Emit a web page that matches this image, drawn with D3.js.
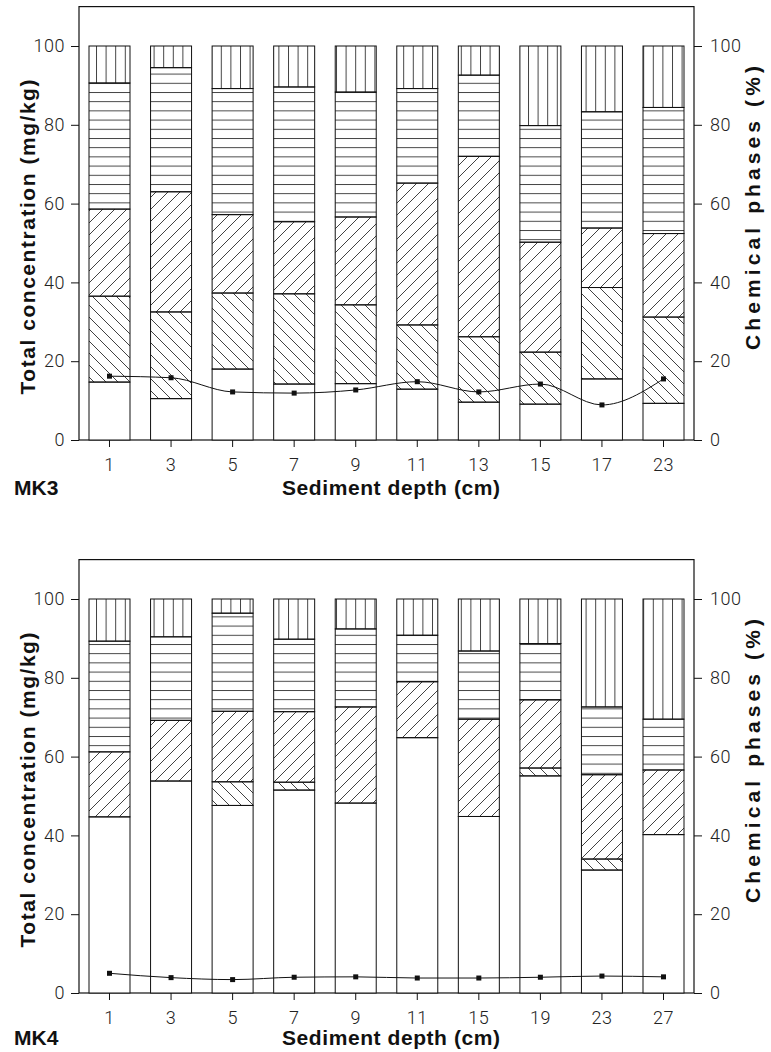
<!DOCTYPE html>
<html lang="en">
<head>
<meta charset="utf-8">
<title>Chemical phases MK3 / MK4</title>
<style>
  body { margin: 0; background: #fff; }
  svg text { font-family: "Liberation Sans", Arial, sans-serif; }
  .tick text { font-family: Roboto, "Liberation Sans", sans-serif; font-weight: 300; font-size: 18px; fill: #222; letter-spacing: 0.5px; }
  .tick line { stroke: #111; }
  .title { font-weight: bold; font-size: 21px; fill: #111; }
</style>
</head>
<body>
<div id="chart"></div>
<script src="https://cdn.jsdelivr.net/npm/d3@7"></script>
<script>
// sediment depths (cm)
var depthsMK3 = [1, 3, 5, 7, 9, 11, 13, 15, 17, 23];
var depthsMK4 = [1, 3, 5, 7, 9, 11, 15, 19, 23, 27];

// chemical phases (%), bottom to top: open, "\\\", "///", horizontal, vertical
var mk3Open  = [14.7, 10.5, 18.0, 14.2, 14.3, 12.9, 9.6, 9.1, 15.5, 9.3];
var mk3Back  = [21.8, 22.0, 19.3, 22.9, 20.0, 16.3, 16.6, 13.2, 23.2, 21.9];
var mk3Fwd   = [22.1, 30.5, 19.9, 18.3, 22.3, 36.0, 45.8, 27.9, 15.1, 21.2];
var mk3Horiz = [32.0, 31.5, 32.0, 34.2, 31.7, 24.0, 20.6, 29.6, 29.5, 32.0];
var mk3Vert  = [9.4, 5.5, 10.8, 10.4, 11.7, 10.8, 7.4, 20.2, 16.7, 15.6];

var mk4Open  = [44.7, 53.8, 47.6, 51.5, 48.2, 64.8, 44.8, 55.1, 31.2, 40.2];
var mk4Back  = [0, 0, 6.0, 2.0, 0, 0, 0, 2.0, 2.8, 0];
var mk4Fwd   = [16.5, 15.4, 17.9, 17.9, 24.4, 14.2, 24.7, 17.3, 21.4, 16.4];
var mk4Horiz = [28.1, 21.2, 24.9, 18.4, 19.8, 11.8, 17.3, 14.3, 17.2, 12.9];
var mk4Vert  = [10.7, 9.6, 3.6, 10.2, 7.6, 9.2, 13.2, 11.3, 27.4, 30.5];

// total concentration (mg/kg)
var mk3Total = [16.2, 15.8, 12.2, 11.9, 12.7, 14.8, 12.2, 14.2, 8.9, 15.5];
var mk4Total = [5.0, 3.9, 3.4, 4.0, 4.1, 3.8, 3.8, 4.0, 4.3, 4.1];

var yTicks = [0, 20, 40, 60, 80, 100];

var w = 771, h = 1052;
var svg = d3.select("#chart").append("svg").attr("width", w).attr("height", h);

// hatch patterns
var defs = svg.append("defs");
function pattern(id, pw, ph, d) {
  defs.append("pattern").attr("id", id)
    .attr("patternUnits", "userSpaceOnUse")
    .attr("width", pw).attr("height", ph)
    .append("path").attr("d", d)
    .attr("stroke", "#111").attr("stroke-width", 0.8).attr("fill", "none");
}
pattern("vert", 9.6, 10, "M0.5,0 V10");
pattern("horiz", 10, 9.2, "M0,0.5 H10");
pattern("fwd", 12, 12, "M0,12 L12,0 M-3,3 L3,-3 M9,15 L15,9");
pattern("back", 12, 12, "M0,0 L12,12 M-3,9 L3,15 M9,-3 L15,3");

var keys = ["open", "back", "fwd", "horiz", "vert"];
var fills = { open: "#fff", back: "url(#back)", fwd: "url(#fwd)", horiz: "url(#horiz)", vert: "url(#vert)" };

function drawPanel(zeroY, depths, cols, totals, name, titleOff) {
  var g = svg.append("g");
  var y = d3.scaleLinear().domain([0, 100]).range([zeroY, zeroY - 394]);
  var x = d3.scaleBand().domain(depths).range([89, 684]).paddingInner(0.334).paddingOuter(0);
  var left = 79, right = 694;

  var rows = depths.map(function(d, i) {
    var r = { depth: d };
    keys.forEach(function(k) { r[k] = cols[k][i]; });
    return r;
  });
  var stack = d3.stack().keys(keys)(rows);

  // frame
  g.append("rect").attr("x", left).attr("y", y(110))
    .attr("width", right - left).attr("height", y(0) - y(110))
    .attr("fill", "none").attr("stroke", "#111").attr("stroke-width", 1.2);

  g.selectAll(".layer").data(stack).enter()
    .append("g").attr("class", "layer")
    .attr("fill", function(d) { return fills[d.key]; })
    .selectAll("rect")
    .data(function(d) { return d.filter(function(s) { return s[1] - s[0] > 0; }); })
    .enter().append("rect")
    .attr("x", function(d) { return x(d.data.depth); })
    .attr("y", function(d) { return y(d[1]); })
    .attr("width", x.bandwidth())
    .attr("height", function(d) { return y(d[0]) - y(d[1]); })
    .attr("stroke", "#111").attr("stroke-width", 1);

  // total concentration line
  var pts = depths.map(function(d, i) { return { depth: d, total: totals[i] }; });
  var cx = function(d) { return x(d.depth) + x.bandwidth() / 2; };
  var line = d3.line().x(cx).y(function(d) { return y(d.total); })
    .curve(d3.curveMonotoneX);
  g.append("path").datum(pts).attr("d", line)
    .attr("fill", "none").attr("stroke", "#111").attr("stroke-width", 1);
  g.selectAll(".pt").data(pts).enter().append("rect").attr("class", "pt")
    .attr("x", function(d) { return cx(d) - 2.5; })
    .attr("y", function(d) { return y(d.total) - 2.5; })
    .attr("width", 5).attr("height", 5).attr("fill", "#111");

  // axes
  var ax = g.append("g").attr("transform", "translate(" + left + ",0)")
    .call(d3.axisLeft(y).tickValues(yTicks).tickSize(8).tickPadding(6));
  ax.select(".domain").remove();
  var ar = g.append("g").attr("transform", "translate(" + right + ",0)")
    .call(d3.axisRight(y).tickValues(yTicks).tickSize(8).tickPadding(8));
  ar.select(".domain").remove();
  var ab = g.append("g").attr("transform", "translate(0," + zeroY + ")")
    .call(d3.axisBottom(x).tickSize(7).tickPadding(11));
  ab.select(".domain").remove();

  // titles
  g.append("text").attr("class", "title")
    .attr("transform", "translate(35," + (zeroY - 203) + ") rotate(-90)")
    .attr("text-anchor", "middle")
    .attr("textLength", 315).attr("lengthAdjust", "spacing")
    .text("Total concentration (mg/kg)");
  g.append("text").attr("class", "title")
    .attr("transform", "translate(760," + (zeroY - 232) + ") rotate(-90)")
    .attr("text-anchor", "middle")
    .attr("textLength", 284).attr("lengthAdjust", "spacing")
    .text("Chemical phases (%)");
  g.append("text").attr("class", "title")
    .attr("x", 14).attr("y", zeroY + titleOff)
    .text(name);
  g.append("text").attr("class", "title")
    .attr("x", 391).attr("y", zeroY + titleOff)
    .attr("text-anchor", "middle")
    .attr("textLength", 218).attr("lengthAdjust", "spacing")
    .text("Sediment depth (cm)");
}

drawPanel(440, depthsMK3,
  { open: mk3Open, back: mk3Back, fwd: mk3Fwd, horiz: mk3Horiz, vert: mk3Vert },
  mk3Total, "MK3", 55);
drawPanel(993, depthsMK4,
  { open: mk4Open, back: mk4Back, fwd: mk4Fwd, horiz: mk4Horiz, vert: mk4Vert },
  mk4Total, "MK4", 52);
</script>
</body>
</html>
